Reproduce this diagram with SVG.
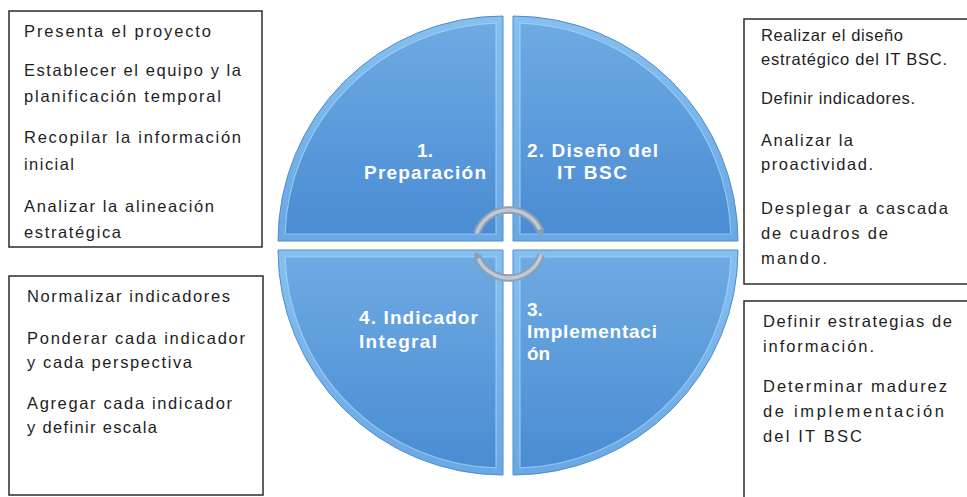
<svg xmlns="http://www.w3.org/2000/svg" width="967" height="497" viewBox="0 0 967 497">
<defs>
<linearGradient id="qfill" x1="0" y1="0" x2="0" y2="1">
<stop offset="0" stop-color="#6eaae3"/>
<stop offset="1" stop-color="#4a8cd3"/>
</linearGradient>
<linearGradient id="qband" x1="0" y1="0" x2="0" y2="1">
<stop offset="0" stop-color="#86c0f0"/>
<stop offset="1" stop-color="#6aa8e4"/>
</linearGradient>
<style>
.box{fill:#ffffff;stroke:#2b2b2b;stroke-width:1.5}
.bt{font-family:"Liberation Sans",Arial,sans-serif;font-size:16.5px;fill:#1e1e1e}
.ct{font-family:"Liberation Sans",Arial,sans-serif;font-size:19px;font-weight:bold;fill:#ffffff}
.qo{fill:url(#qband);stroke:#4f8ccb;stroke-width:1}
.qi{fill:url(#qfill);stroke:#a9d8fa;stroke-width:1.2;stroke-opacity:0.7}
.arcA{fill:none;stroke:#8d9fb3;stroke-width:7.5}
.arcB{fill:none;stroke:#bdcad8;stroke-width:3.5}
.head{fill:#8d9fb3}
</style>
</defs>
<rect width="967" height="497" fill="#ffffff"/>

<g id="box-preparacion">
<rect class="box" x="9" y="11" width="253" height="236"/>
<text class="bt" x="24" y="37" textLength="187" lengthAdjust="spacing">Presenta el proyecto</text>
<text class="bt" x="24" y="76" textLength="217" lengthAdjust="spacing">Establecer el equipo y la</text>
<text class="bt" x="24" y="102" textLength="197" lengthAdjust="spacing">planificación temporal</text>
<text class="bt" x="24" y="143" textLength="217" lengthAdjust="spacing">Recopilar la información</text>
<text class="bt" x="24" y="170" textLength="50" lengthAdjust="spacing">inicial</text>
<text class="bt" x="24" y="212" textLength="190" lengthAdjust="spacing">Analizar la alineación</text>
<text class="bt" x="24" y="238" textLength="97" lengthAdjust="spacing">estratégica</text>
</g>

<g id="box-diseno">
<rect class="box" x="744" y="19" width="240" height="265"/>
<text class="bt" x="761" y="41" textLength="142" lengthAdjust="spacing">Realizar el diseño</text>
<text class="bt" x="761" y="65" textLength="186" lengthAdjust="spacing">estratégico del IT BSC.</text>
<text class="bt" x="761" y="104" textLength="154" lengthAdjust="spacing">Definir indicadores.</text>
<text class="bt" x="761" y="146" textLength="92" lengthAdjust="spacing">Analizar la</text>
<text class="bt" x="761" y="170" textLength="112" lengthAdjust="spacing">proactividad.</text>
<text class="bt" x="761" y="214" textLength="187" lengthAdjust="spacing">Desplegar a cascada</text>
<text class="bt" x="761" y="239" textLength="127" lengthAdjust="spacing">de cuadros de</text>
<text class="bt" x="761" y="264" textLength="66" lengthAdjust="spacing">mando.</text>
</g>

<g id="box-indicador">
<rect class="box" x="9" y="276" width="254" height="219"/>
<text class="bt" x="27" y="302" textLength="203" lengthAdjust="spacing">Normalizar indicadores</text>
<text class="bt" x="27" y="344" textLength="218" lengthAdjust="spacing">Ponderar cada indicador</text>
<text class="bt" x="27" y="368" textLength="165" lengthAdjust="spacing">y cada perspectiva</text>
<text class="bt" x="27" y="409" textLength="205" lengthAdjust="spacing">Agregar cada indicador</text>
<text class="bt" x="27" y="433" textLength="130" lengthAdjust="spacing">y definir escala</text>
</g>

<g id="box-implementacion">
<rect class="box" x="744" y="301" width="240" height="210"/>
<text class="bt" x="763" y="327" textLength="189" lengthAdjust="spacing">Definir estrategias de</text>
<text class="bt" x="763" y="352" textLength="111" lengthAdjust="spacing">información.</text>
<text class="bt" x="763" y="392" textLength="184" lengthAdjust="spacing">Determinar madurez</text>
<text class="bt" x="763" y="417" textLength="181" lengthAdjust="spacing">de implementación</text>
<text class="bt" x="763" y="442" textLength="99" lengthAdjust="spacing">del IT BSC</text>
</g>

<g id="q1-preparacion">
<path class="qo" d="M503,241 L278,241 A225,225 0 0 1 503,16 Z"/>
<path class="qi" d="M496,234 L285.1,234 A218,218 0 0 1 496,23.1 Z"/>
<text class="ct" x="425" y="157" text-anchor="middle">1.</text>
<text class="ct" x="364" y="179" textLength="122" lengthAdjust="spacing">Preparación</text>
</g>

<g id="q2-diseno">
<path class="qo" d="M513,241 L513,16 A225,225 0 0 1 738,241 Z"/>
<path class="qi" d="M520,234 L520,23.1 A218,218 0 0 1 730.9,234 Z"/>
<text class="ct" x="527" y="157" textLength="131" lengthAdjust="spacing">2. Diseño del</text>
<text class="ct" x="557" y="179" textLength="70" lengthAdjust="spacing">IT BSC</text>
</g>

<g id="q3-implementacion">
<path class="qo" d="M513,250 L738,250 A225,225 0 0 1 513,475 Z"/>
<path class="qi" d="M520,257 L730.9,257 A218,218 0 0 1 520,467.9 Z"/>
<text class="ct" x="527" y="316">3.</text>
<text class="ct" x="527" y="338" textLength="130" lengthAdjust="spacing">Implementaci</text>
<text class="ct" x="527" y="360">ón</text>
</g>

<g id="q4-indicador">
<path class="qo" d="M503,250 L503,475 A225,225 0 0 1 278,250 Z"/>
<path class="qi" d="M496,257 L496,467.9 A218,218 0 0 1 285.1,257 Z"/>
<text class="ct" x="359" y="324" textLength="119" lengthAdjust="spacing">4. Indicador</text>
<text class="ct" x="359" y="348" textLength="78" lengthAdjust="spacing">Integral</text>
</g>

<g id="connectors">
<path class="arcA" d="M476.7,233.5 A34,34 0 0 1 539.8,229.6"/>
<path class="arcB" d="M476.7,233.5 A34,34 0 0 1 539.8,229.6"/>
<polygon class="head" points="542.8,236 544.3,227.5 535.3,231.7"/>
<path class="arcA" d="M541.3,254.5 A34,34 0 0 1 478.2,258.4"/>
<path class="arcB" d="M541.3,254.5 A34,34 0 0 1 478.2,258.4"/>
<polygon class="head" points="475.2,252.1 482.7,256.3 473.7,260.5"/>
</g>
</svg>
